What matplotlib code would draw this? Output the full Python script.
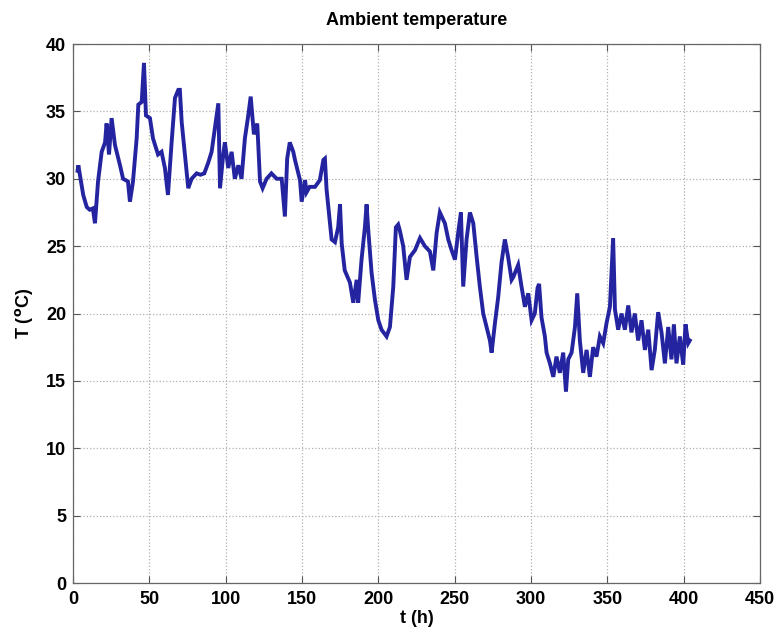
import numpy as np
import matplotlib.pyplot as plt

# --- Ambient temperature record (hours, deg C) ---
t_h = [
    3.0, 3.5, 6.7, 9.0, 11.0, 13.0, 14.4, 16.4, 18.8, 21.0, 22.0, 23.6, 25.3, 27.5,
    30.8, 32.8, 36.0, 37.3, 39.3, 41.7, 42.8, 45.0, 46.5, 47.8, 50.4, 52.4, 55.7,
    58.0, 60.2, 62.2, 64.6, 66.8, 69.0, 70.0, 71.2, 73.3, 75.5, 77.7, 81.0, 83.5,
    86.0, 88.6, 90.8, 93.0, 95.2, 96.3, 98.4, 99.5, 101.7, 103.9, 106.0, 108.3,
    110.4, 112.6, 114.8, 116.4, 118.5, 120.7, 122.5, 124.2, 126.8, 130.0, 133.4,
    136.7, 138.8, 140.3, 142.0, 144.3, 145.4, 148.7, 149.8, 152.0, 153.0, 155.0,
    158.5, 161.7, 164.0, 165.0, 166.1, 168.3, 169.4, 171.6, 173.7, 174.9, 176.0,
    178.0, 181.4, 183.6, 185.8, 186.8, 189.0, 191.2, 192.3, 193.4, 195.6, 197.8,
    200.0, 202.1, 205.4, 207.6, 209.8, 211.5, 213.0, 214.0, 216.3, 218.5, 220.7,
    224.0, 227.3, 230.5, 233.8, 236.0, 238.2, 240.3, 243.6, 245.8, 248.0, 250.2,
    252.3, 254.1, 255.6, 257.8, 260.0, 262.2, 264.4, 266.5, 268.7, 270.9, 273.1,
    274.2, 276.4, 278.5, 280.7, 282.9, 285.0, 287.3, 288.4, 291.6, 293.8, 296.0,
    298.2, 300.4, 302.5, 304.3, 305.3, 306.9, 309.1, 310.2, 312.4, 314.6, 316.7,
    318.9, 321.1, 322.9, 324.4, 326.6, 328.8, 330.3, 332.0, 334.2, 336.4, 338.6,
    340.7, 342.9, 345.1, 347.3, 349.5, 351.7, 353.8, 355.0, 357.1, 359.3, 361.5,
    363.7, 365.8, 368.0, 370.2, 372.4, 374.6, 376.8, 379.0, 381.1, 383.3, 385.5,
    387.7, 389.9, 392.0, 393.6, 395.3, 397.5, 399.7, 401.2, 403.0, 404.0,
]
temp_c = [
    30.6, 31.0, 28.8, 27.9, 27.7, 27.8, 26.7, 29.8, 32.0, 32.7, 34.1, 31.8, 34.5, 32.5,
    31.0, 30.0, 29.8, 28.3, 29.8, 33.0, 35.5, 35.7, 38.6, 34.7, 34.5, 33.0, 31.8,
    32.0, 30.8, 28.8, 32.7, 36.0, 36.6, 36.6, 34.2, 31.8, 29.3, 30.0, 30.4, 30.3,
    30.4, 31.2, 32.0, 33.8, 35.6, 29.3, 31.8, 32.7, 30.8, 32.0, 30.0, 31.0,
    30.0, 33.0, 34.7, 36.1, 33.3, 34.1, 29.8, 29.3, 30.0, 30.4, 30.0,
    30.0, 27.2, 31.5, 32.7, 32.0, 31.4, 29.9, 28.3, 29.9, 29.0, 29.4,
    29.4, 29.9, 31.4, 31.5, 29.2, 26.7, 25.5, 25.3, 26.4, 28.1, 25.2,
    23.2, 22.3, 20.8, 22.5, 20.8, 24.0, 26.4, 28.1, 26.2, 23.0, 21.0,
    19.5, 18.8, 18.3, 19.0, 22.0, 26.4, 26.6, 26.2, 25.0, 22.5, 24.2,
    24.7, 25.6, 25.0, 24.6, 23.2, 26.0, 27.5, 26.7, 25.5, 24.7, 24.0,
    26.0, 27.5, 22.0, 25.5, 27.5, 26.7, 24.2, 22.0, 20.0, 19.0, 18.0,
    17.1, 19.3, 21.2, 23.8, 25.5, 24.2, 22.5, 22.7, 23.6, 22.0, 20.5,
    21.5, 19.5, 20.0, 21.9, 22.2, 19.7, 18.3, 17.1, 16.3, 15.3, 16.8,
    15.6, 17.1, 14.2, 16.6, 17.1, 19.0, 21.5, 18.0, 15.6, 17.3, 15.3,
    17.5, 16.8, 18.3, 17.8, 19.3, 20.5, 25.6, 20.3, 18.8, 20.0, 18.8,
    20.6, 18.6, 20.0, 18.0, 19.5, 17.3, 18.8, 15.8, 17.3, 20.1, 18.6,
    16.3, 19.0, 16.6, 19.2, 16.3, 18.3, 16.2, 19.2, 17.8, 18.0,
]

x_ticks = np.arange(0, 451, 50)
y_ticks = np.arange(0, 41, 5)

plt.rcParams['font.family'] = ['Liberation Sans', 'DejaVu Sans']
plt.rcParams['font.weight'] = 'bold'

fig = plt.figure(figsize=(7.79, 6.39), dpi=100, facecolor='white')
ax = fig.add_axes([0.0937, 0.0876, 0.8819, 0.8435])

ax.plot(t_h, temp_c, '-', color='#2424a0', lw=2.8, solid_joinstyle='miter')

ax.set_xlim(0, 450)
ax.set_ylim(0, 40)
ax.set_xticks(x_ticks)
ax.set_yticks(y_ticks)
ax.tick_params(direction='in', top=True, right=True, length=5, width=0.8,
               colors='#555555', labelcolor='black', labelsize=13)
ax.tick_params(axis='x', pad=6)
ax.tick_params(axis='y', pad=5)
for lab in ax.get_xticklabels() + ax.get_yticklabels():
    lab.set_fontweight('bold')
for sp in ax.spines.values():
    sp.set_color('#666666')
    sp.set_linewidth(0.9)

ax.grid(True, linestyle=':', color='#b0b0b0', lw=0.9)

ax.set_title('Ambient temperature', fontsize=13, fontweight='bold', pad=14)
ax.set_xlabel('t (h)', fontsize=13, fontweight='bold', labelpad=1)
ax.set_ylabel(r'T ($^{\mathbf{o}}$C)', fontsize=13, fontweight='bold', labelpad=8)

fig.savefig('out.png', dpi=100)
